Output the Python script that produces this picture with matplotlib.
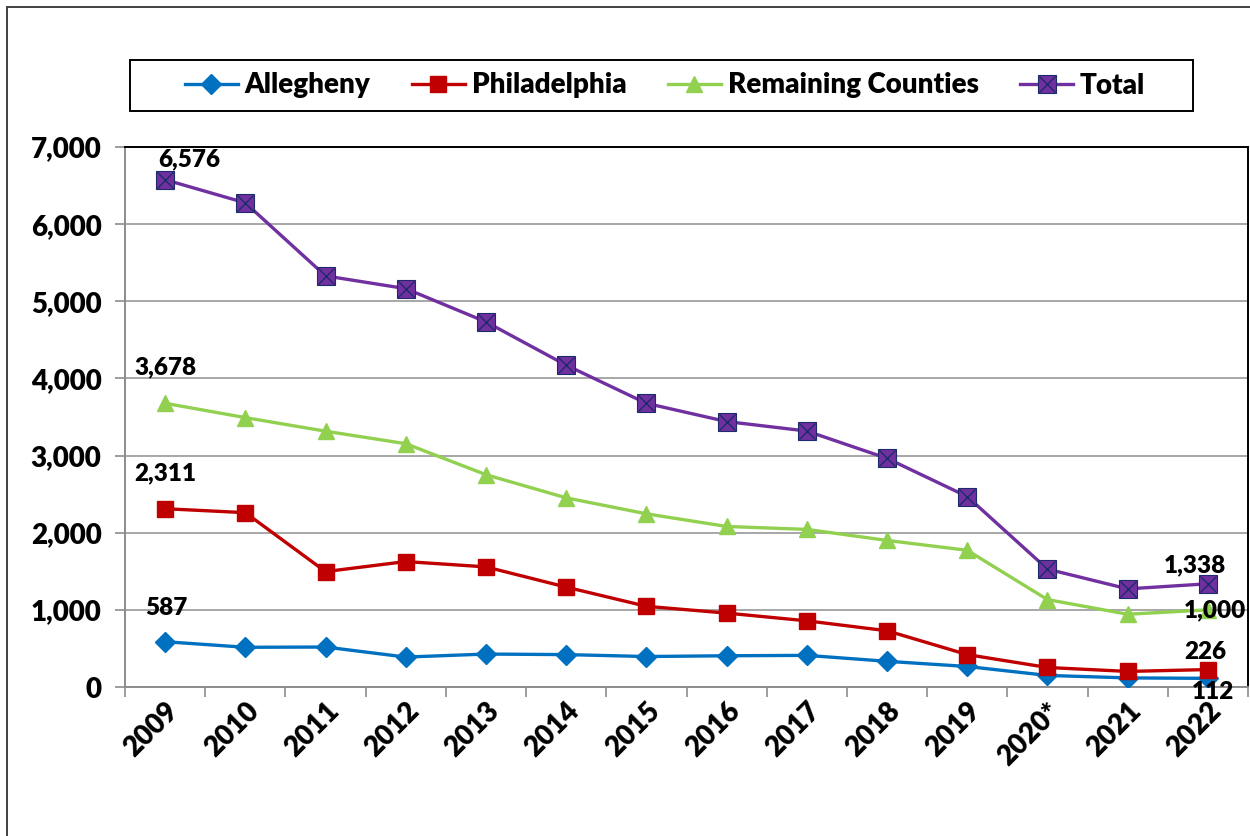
import matplotlib
matplotlib.use('Agg')
import matplotlib.pyplot as plt
from matplotlib.patches import Rectangle
from matplotlib.ticker import FuncFormatter, FixedLocator
from matplotlib.legend_handler import HandlerTuple

plt.rcParams['font.family'] = ['Lato', 'DejaVu Sans']
plt.rcParams['font.weight'] = 'heavy'

years = ['2009', '2010', '2011', '2012', '2013', '2014', '2015', '2016',
         '2017', '2018', '2019', '2020*', '2021', '2022']
allegheny = [587, 515, 518, 388, 427, 420, 395, 405, 410, 333, 266, 150, 118, 112]
philadelphia = [2311, 2260, 1496, 1626, 1557, 1295, 1046, 958, 858, 729, 420, 253, 202, 226]
remaining = [3678, 3492, 3316, 3154, 2752, 2452, 2245, 2081, 2043, 1900, 1772, 1133, 943, 1000]
total = [6576, 6276, 5329, 5164, 4733, 4172, 3677, 3441, 3318, 2964, 2469, 1528, 1272, 1338]

c_all = '#0070C0'
c_phi = '#C00000'
c_rem = '#92D050'
c_tot = '#7030A0'
c_x = '#1F2A6B'
W = 'heavy'

fig = plt.figure(figsize=(12.5, 8.36), dpi=100)
ax = fig.add_axes([125 / 1250, 1 - 687 / 836, 1123 / 1250, 540 / 836])

x = list(range(len(years)))
l_all, = ax.plot(x, allegheny, color=c_all, lw=2.4, marker='D', ms=10.5,
                 mfc=c_all, mec=c_all, zorder=4)
l_phi, = ax.plot(x, philadelphia, color=c_phi, lw=2.4, marker='s', ms=11,
                 mfc=c_phi, mec=c_phi, zorder=4)
l_rem, = ax.plot(x, remaining, color=c_rem, lw=2.4, marker='^', ms=12,
                 mfc=c_rem, mec=c_rem, zorder=4)
l_tot, = ax.plot(x, total, color=c_tot, lw=2.4, marker='s', ms=12.5,
                 mfc=c_tot, mec=c_x, mew=0.8, zorder=5)
l_totx, = ax.plot(x, total, ls='none', marker='x', ms=11, mec=c_x, mew=1.0, zorder=6)

ax.set_xlim(-0.5, len(years) - 0.5)
ax.set_ylim(0, 7000)
ax.set_yticks(range(0, 7001, 1000))
ax.yaxis.set_major_formatter(FuncFormatter(lambda v, p: f'{int(v):,}'))
ax.grid(axis='y', color='#A0A0A0', lw=1.3)
ax.set_axisbelow(True)

ax.set_xticks(x)
ax.set_xticklabels(years, rotation=45, ha='right', va='top', rotation_mode='anchor')
ax.xaxis.set_minor_locator(FixedLocator([i - 0.5 for i in range(len(years) + 1)]))
ax.tick_params(axis='x', which='major', length=0, pad=8, labelsize=20)
ax.tick_params(axis='x', which='minor', length=7, width=1.2, color='#8C8C8C')
ax.tick_params(axis='y', length=7, width=1.2, color='#8C8C8C', labelsize=20, pad=10)
for lab in ax.get_xticklabels() + ax.get_yticklabels():
    lab.set_fontweight(W)

for side in ('top', 'right'):
    ax.spines[side].set_color('black')
    ax.spines[side].set_linewidth(1.4)
for side in ('left', 'bottom'):
    ax.spines[side].set_color('#8C8C8C')
    ax.spines[side].set_linewidth(1.4)

# value labels at the first and last year
last = len(years) - 1
labels = [
    (0, total[0], (24, 20)),
    (0, remaining[0], (0, 36)),
    (0, philadelphia[0], (0, 35)),
    (0, allegheny[0], (1, 34)),
    (last, total[last], (-13, 18)),
    (last, remaining[last], (7, 0)),
    (last, philadelphia[last], (-3, 18)),
    (last, allegheny[last], (5, -14)),
]
for xi, v, off in labels:
    ax.annotate(f'{v:,}', (xi, v), xytext=off, textcoords='offset pixels',
                ha='center', va='center', fontsize=17.5, fontweight=W,
                color='black', zorder=7)

# legend along the top, with its box drawn separately
handles = [l_all, l_phi, l_rem, (l_tot, l_totx)]
names = ['Allegheny', 'Philadelphia', 'Remaining Counties', 'Total']
leg = fig.legend(handles, names, ncol=4, loc='center',
                 bbox_to_anchor=(665 / 1250, 1 - 85.5 / 836),
                 fontsize=20, frameon=False,
                 handlelength=1.9, handletextpad=0.25, columnspacing=1.5,
                 borderpad=0.2, handler_map={tuple: HandlerTuple(ndivide=1, pad=0)})
for t in leg.get_texts():
    t.set_fontweight(W)
fig.patches.append(Rectangle((130 / 1250, 1 - 111 / 836), 1063 / 1250, 51 / 836,
                             transform=fig.transFigure, fill=False,
                             edgecolor='black', lw=1.4))

# outer chart border
fig.patches.append(Rectangle((7 / 1250, -0.1), 1.2, 1 - 7 / 836 + 0.1,
                             transform=fig.transFigure, fill=False,
                             edgecolor='#404040', lw=1.4))

fig.savefig('out.png', dpi=100)
